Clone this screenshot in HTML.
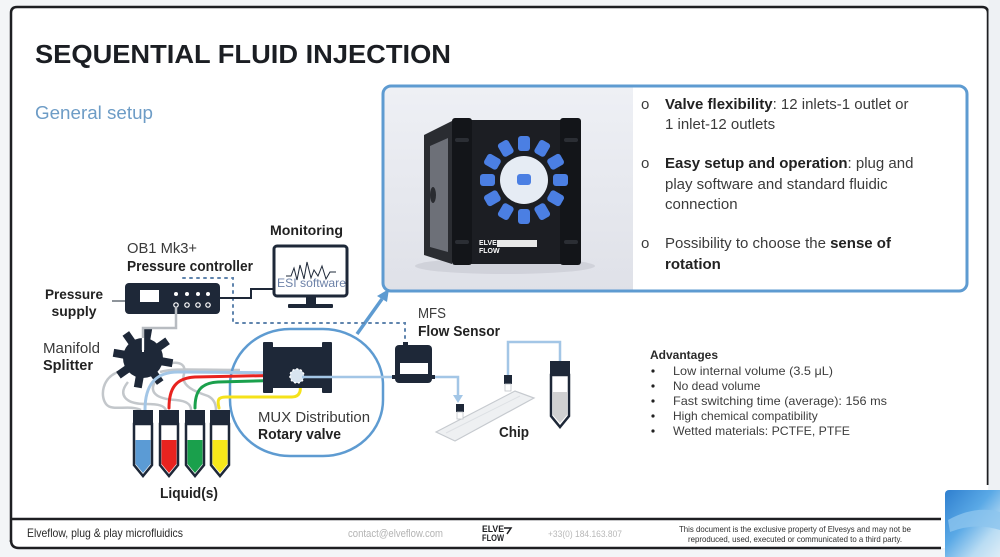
<!DOCTYPE html>
<html><head><meta charset="utf-8">
<style>
html,body{margin:0;padding:0;background:#f3f5f7;}
svg{display:block;font-family:"Liberation Sans",Arial,sans-serif;}
</style></head>
<body>
<svg width="1000" height="557" viewBox="0 0 1000 557" xmlns="http://www.w3.org/2000/svg">
<defs>
  <linearGradient id="photoBg" x1="0" y1="0" x2="0" y2="1">
    <stop offset="0" stop-color="#eef0f5"/>
    <stop offset="1" stop-color="#dfe1e8"/>
  </linearGradient>
  <linearGradient id="blueImg" x1="0" y1="0" x2="1" y2="1">
    <stop offset="0" stop-color="#2f7fcf"/>
    <stop offset="0.4" stop-color="#5aa9e6"/>
    <stop offset="0.7" stop-color="#b9dcf3"/>
    <stop offset="1" stop-color="#e7f1f8"/>
  </linearGradient>
  <clipPath id="boxClip"><rect x="383" y="86" width="584" height="205" rx="8"/></clipPath>
</defs>

<!-- slide frame -->
<rect x="11" y="7" width="977" height="541" rx="6" fill="#ffffff"/>
<path d="M11,542 L11,13 Q11,7 17,7 L982,7 Q988,7 988,13 L988,485" fill="none" stroke="#1e1f22" stroke-width="2.5"/>
<path d="M11,540 Q11,548 19,548 L941,548" fill="none" stroke="#1e1f22" stroke-width="2.5"/>
<line x1="11" y1="519" x2="941" y2="519" stroke="#1e1f22" stroke-width="2.5"/>
<rect x="988.5" y="0" width="12" height="490" fill="#eef1f4"/>
<!-- bottom-right blue photo -->
<rect x="945" y="490" width="60" height="70" rx="4" fill="url(#blueImg)"/>
<path d="M948,520 Q975,505 1000,512 L1000,530 Q975,522 950,532 Z" fill="#8cc4ee" opacity="0.8"/>

<!-- title -->
<text x="35" y="63" font-size="26" font-weight="bold" fill="#1b1e23" textLength="416" lengthAdjust="spacingAndGlyphs">SEQUENTIAL FLUID INJECTION</text>
<text x="35" y="119" font-size="18" fill="#6d9cc6" textLength="118" lengthAdjust="spacingAndGlyphs">General setup</text>

<!-- right info box -->
<rect x="383" y="86" width="584" height="205" rx="8" fill="#ffffff"/>
<g clip-path="url(#boxClip)">
  <rect x="383" y="86" width="250" height="206" fill="url(#photoBg)"/>
  <ellipse cx="505" cy="266" rx="90" ry="8" fill="#c9cbd3" opacity="0.7"/>
  <!-- cube side -->
  <polygon points="424,135 452,121 452,264 424,255" fill="#2a2c31"/>
  <polygon points="430,146 448,138 448,252 430,247" fill="#6d7078"/>
  <ellipse cx="433" cy="195" rx="3" ry="8" fill="#2a2c31"/>
  <!-- cube front -->
  <rect x="452" y="120" width="129" height="144" rx="3" fill="#1c1e23"/>
  <rect x="452" y="118" width="20" height="147" rx="3" fill="#131519"/>
  <rect x="560" y="118" width="21" height="147" rx="3" fill="#131519"/>
  <rect x="455" y="138" width="14" height="4" rx="2" fill="#2b2e34"/>
  <rect x="455" y="240" width="14" height="4" rx="2" fill="#2b2e34"/>
  <rect x="564" y="138" width="14" height="4" rx="2" fill="#2b2e34"/>
  <rect x="564" y="240" width="14" height="4" rx="2" fill="#2b2e34"/>
  <!-- blue connectors -->
  <g fill="#4b7fe3">
    <g transform="translate(524,180)">
      <rect x="-6" y="-44" width="12" height="15" rx="3" transform="rotate(0)"/>
      <rect x="-6" y="-44" width="12" height="15" rx="3" transform="rotate(30)"/>
      <rect x="-6" y="-44" width="12" height="15" rx="3" transform="rotate(60)"/>
      <rect x="-6" y="-44" width="12" height="15" rx="3" transform="rotate(90)"/>
      <rect x="-6" y="-44" width="12" height="15" rx="3" transform="rotate(120)"/>
      <rect x="-6" y="-44" width="12" height="15" rx="3" transform="rotate(150)"/>
      <rect x="-6" y="-44" width="12" height="15" rx="3" transform="rotate(180)"/>
      <rect x="-6" y="-44" width="12" height="15" rx="3" transform="rotate(210)"/>
      <rect x="-6" y="-44" width="12" height="15" rx="3" transform="rotate(240)"/>
      <rect x="-6" y="-44" width="12" height="15" rx="3" transform="rotate(270)"/>
      <rect x="-6" y="-44" width="12" height="15" rx="3" transform="rotate(300)"/>
      <rect x="-6" y="-44" width="12" height="15" rx="3" transform="rotate(330)"/>
    </g>
  </g>
  <circle cx="524" cy="180" r="24" fill="#e6ecf4"/>
  <rect x="517" y="174" width="14" height="11" rx="3" fill="#4b7fe3"/>
  <text x="479" y="245" font-size="7" font-weight="bold" fill="#ffffff">ELVE</text>
  <text x="479" y="253" font-size="7" font-weight="bold" fill="#ffffff">FLOW</text>
  <rect x="497" y="240" width="40" height="7" fill="#e8e8e8"/>
</g>
<rect x="383" y="86" width="584" height="205" rx="8" fill="none" stroke="#5e9bd1" stroke-width="3"/>

<g font-size="15" fill="#3b3b3b">
  <text x="641" y="109">o</text>
  <text x="665" y="109"><tspan font-weight="bold" fill="#222">Valve flexibility</tspan>: 12 inlets-1 outlet or</text>
  <text x="665" y="129">1 inlet-12 outlets</text>
  <text x="641" y="168">o</text>
  <text x="665" y="168"><tspan font-weight="bold" fill="#222">Easy setup and operation</tspan>: plug and</text>
  <text x="665" y="189">play software and standard fluidic</text>
  <text x="665" y="209">connection</text>
  <text x="641" y="248">o</text>
  <text x="665" y="248">Possibility to choose the <tspan font-weight="bold" fill="#222">sense of</tspan></text>
  <text x="665" y="269" font-weight="bold" fill="#222">rotation</text>
</g>

<!-- arrow from MUX to box -->
<line x1="357" y1="334" x2="382" y2="299" stroke="#5e9bd1" stroke-width="3.5"/>
<polygon points="389,289 377,296 387,302" fill="#5e9bd1"/>

<!-- dotted signal lines -->
<path d="M183,278 L233,278 L233,323 L405,323 L405,345" fill="none" stroke="#5f84ad" stroke-width="2" stroke-dasharray="2,5" stroke-linecap="round"/>

<!-- pressure controller -->
<text x="127" y="253" font-size="14.5" fill="#3a3a3a" textLength="70" lengthAdjust="spacingAndGlyphs">OB1 Mk3+</text>
<text x="127" y="271" font-size="14.5" font-weight="bold" fill="#222" textLength="126" lengthAdjust="spacingAndGlyphs">Pressure controller</text>
<line x1="112" y1="301" x2="126" y2="301" stroke="#8e949a" stroke-width="2"/>
<rect x="125" y="283" width="95" height="31" rx="4" fill="#1e2838"/>
<rect x="140" y="290" width="19" height="12" fill="#ffffff"/>
<g fill="#ffffff">
  <circle cx="176" cy="294" r="2"/><circle cx="187" cy="294" r="2"/><circle cx="198" cy="294" r="2"/><circle cx="208" cy="294" r="2"/>
</g>
<g fill="none" stroke="#ffffff" stroke-width="1.2">
  <circle cx="176" cy="305" r="2.2"/><circle cx="187" cy="305" r="2.2"/><circle cx="198" cy="305" r="2.2"/><circle cx="208" cy="305" r="2.2"/>
</g>
<text x="74" y="299" font-size="14" font-weight="bold" fill="#222" text-anchor="middle" textLength="58" lengthAdjust="spacingAndGlyphs">Pressure</text>
<text x="74" y="316" font-size="14" font-weight="bold" fill="#222" text-anchor="middle" textLength="45" lengthAdjust="spacingAndGlyphs">supply</text>

<!-- cable to monitor -->
<path d="M220,298 L251,298 L251,289 L274,289" fill="none" stroke="#1e2838" stroke-width="2"/>

<!-- monitor -->
<text x="270" y="235" font-size="14" font-weight="bold" fill="#222" textLength="73" lengthAdjust="spacingAndGlyphs">Monitoring</text>
<rect x="274" y="246" width="73" height="50" rx="3" fill="#ffffff" stroke="#1e2838" stroke-width="3"/>
<rect x="306" y="297" width="10" height="8" fill="#1e2838"/>
<rect x="288" y="304" width="45" height="4" rx="1" fill="#1e2838"/>
<polyline points="286,276 291,276 294,268 297,280 300,265 304,279 307,262 311,278 314,270 318,276 322,266 326,279 330,272 336,272" fill="none" stroke="#1e2838" stroke-width="1"/>
<text x="277" y="287" font-size="12" fill="#6d82a8" textLength="69" lengthAdjust="spacingAndGlyphs">ESI software</text>

<!-- manifold splitter -->
<text x="43" y="353" font-size="14.5" fill="#3a3a3a" textLength="57" lengthAdjust="spacingAndGlyphs">Manifold</text>
<text x="43" y="370" font-size="14.5" font-weight="bold" fill="#222" textLength="50" lengthAdjust="spacingAndGlyphs">Splitter</text>

<!-- gray pressure tubes -->
<g fill="none" stroke="#c3c7cb" stroke-width="2.5">
  <path d="M118,372 C102,378 100,396 106,404 C112,412 128,404 141,410"/>
  <path d="M128,382 C118,394 124,404 146,404 C160,404 164,406 166,410"/>
  <path d="M156,380 C148,392 156,399 176,400 C188,401 191,405 191,410"/>
  <path d="M166,364 C182,360 186,366 184,374 C180,386 196,392 208,396 C214,399 216,404 216,410"/>
  <path d="M160,372 C175,368 190,370 240,370"/>
</g>
<!-- gear -->
<g transform="translate(143,358)" fill="#1e2838">
  <circle r="20"/>
  <rect x="-4" y="-30" width="8" height="12" transform="rotate(10)"/>
  <rect x="-4" y="-30" width="8" height="12" transform="rotate(55)"/>
  <rect x="-4" y="-30" width="8" height="12" transform="rotate(100)"/>
  <rect x="-4" y="-30" width="8" height="12" transform="rotate(145)"/>
  <rect x="-4" y="-30" width="8" height="12" transform="rotate(190)"/>
  <rect x="-4" y="-30" width="8" height="12" transform="rotate(235)"/>
  <rect x="-4" y="-30" width="8" height="12" transform="rotate(280)"/>
  <rect x="-4" y="-30" width="8" height="12" transform="rotate(325)"/>
</g>
<path d="M176,308 L176,328 L143,328 L143,350" fill="none" stroke="#b8bcc1" stroke-width="2.5"/>
<line x1="143" y1="338" x2="143" y2="352" stroke="#ffffff" stroke-width="2"/>

<!-- MUX circle -->
<rect x="230" y="329" width="153" height="127" rx="60" ry="56" fill="none" stroke="#5e9bd1" stroke-width="2.5"/>

<!-- colored liquid tubes -->
<g fill="none" stroke-width="3" stroke-linecap="round">
  <path d="M145,410 C145,385 155,372 178,372 L296,373" stroke="#a3c6e6"/>
  <path d="M169,408 C169,388 176,378 195,377 L296,375" stroke="#e8231f"/>
  <path d="M195,408 C195,392 200,383 218,382 L294,380" stroke="#1aa04c"/>
  <path d="M219,408 C217,400 218,397 226,397 L292,397 C300,397 302,390 299,382" stroke="#f5e21a"/>
</g>

<!-- MUX valve -->
<rect x="263" y="342" width="10" height="51" rx="1" fill="#1e2838"/>
<rect x="322" y="342" width="10" height="51" rx="1" fill="#1e2838"/>
<rect x="273" y="347" width="49" height="41" fill="#1e2838"/>
<circle cx="297" cy="376" r="7" fill="#d8e4ef" stroke="#ffffff" stroke-width="1.5" stroke-dasharray="2,2"/>
<text x="258" y="422" font-size="15" fill="#3a3a3a" textLength="112" lengthAdjust="spacingAndGlyphs">MUX Distribution</text>
<text x="258" y="439" font-size="15" font-weight="bold" fill="#222" textLength="83" lengthAdjust="spacingAndGlyphs">Rotary valve</text>

<!-- flow line -->
<path d="M302,377 L395,377" stroke="#a3c6e6" stroke-width="2.5" fill="none"/>
<path d="M432,377 L458,377 L458,396" stroke="#a3c6e6" stroke-width="2.5" fill="none"/>
<polygon points="453,395 463,395 458,403" fill="#a3c6e6"/>

<!-- flow sensor -->
<text x="418" y="318" font-size="14.5" fill="#3a3a3a" textLength="28" lengthAdjust="spacingAndGlyphs">MFS</text>
<text x="418" y="336" font-size="14.5" font-weight="bold" fill="#222" textLength="82" lengthAdjust="spacingAndGlyphs">Flow Sensor</text>
<rect x="403" y="342" width="5" height="4" fill="#1e2838"/>
<rect x="395" y="345" width="37" height="38" rx="4" fill="#1e2838"/>
<rect x="400" y="363" width="28" height="11" fill="#ffffff"/>
<rect x="392" y="375" width="4" height="4" fill="#1e2838"/>
<rect x="431" y="375" width="4" height="4" fill="#1e2838"/>

<!-- chip -->
<polygon points="436,432 515,391 534,398 455,441" fill="#eef0f2" stroke="#c6cacf" stroke-width="1.2"/>
<line x1="446" y1="433" x2="520" y2="396" stroke="#dde0e4" stroke-width="1"/>
<rect x="456" y="404" width="8" height="8" fill="#1e2838"/>
<rect x="457" y="412" width="6" height="7" fill="#ffffff" stroke="#bfc3c8" stroke-width="0.8"/>
<rect x="504" y="375" width="8" height="9" fill="#1e2838"/>
<rect x="505" y="384" width="6" height="7" fill="#ffffff" stroke="#bfc3c8" stroke-width="0.8"/>
<path d="M508,375 L508,342 L560,342 L560,361" stroke="#a3c6e6" stroke-width="2.5" fill="none"/>
<text x="499" y="437" font-size="15" font-weight="bold" fill="#222" textLength="30" lengthAdjust="spacingAndGlyphs">Chip</text>

<!-- waste vial -->
<path d="M551,375 L551,416 L560,427 L569,416 L569,375 Z" fill="#ffffff" stroke="#1e2838" stroke-width="2.5"/>
<path d="M553,392 L553,415 L560,423 L567,415 L567,392 Z" fill="#d0d1d2"/>
<rect x="550" y="361" width="20" height="14" fill="#1e2838"/>

<!-- liquid vials -->
<g stroke="#1e2838" stroke-width="2.5">
  <path d="M134,424 L134,465 L143,476 L152,465 L152,424 Z" fill="#ffffff"/>
  <path d="M160,424 L160,465 L169,476 L178,465 L178,424 Z" fill="#ffffff"/>
  <path d="M186,424 L186,465 L195,476 L204,465 L204,424 Z" fill="#ffffff"/>
  <path d="M211,424 L211,465 L220,476 L229,465 L229,424 Z" fill="#ffffff"/>
</g>
<path d="M135.5,440 L135.5,464 L143,473 L150.5,464 L150.5,440 Z" fill="#5b9bd5"/>
<path d="M161.5,440 L161.5,464 L169,473 L176.5,464 L176.5,440 Z" fill="#e8231f"/>
<path d="M187.5,440 L187.5,464 L195,473 L202.5,464 L202.5,440 Z" fill="#1aa04c"/>
<path d="M212.5,440 L212.5,464 L220,473 L227.5,464 L227.5,440 Z" fill="#f7e81a"/>
<g fill="#1e2838">
  <rect x="133" y="410" width="20" height="14"/>
  <rect x="159" y="410" width="20" height="14"/>
  <rect x="185" y="410" width="20" height="14"/>
  <rect x="210" y="410" width="20" height="14"/>
</g>
<text x="160" y="498" font-size="14.5" font-weight="bold" fill="#222" textLength="58" lengthAdjust="spacingAndGlyphs">Liquid(s)</text>

<!-- advantages -->
<text x="650" y="359" font-size="12" font-weight="bold" fill="#2a2a2a" textLength="68" lengthAdjust="spacingAndGlyphs">Advantages</text>
<g font-size="12" fill="#3d3d3d">
  <circle cx="653" cy="371" r="1.6" fill="#222"/>
  <text x="673" y="375" textLength="160" lengthAdjust="spacingAndGlyphs">Low internal volume (3.5 μL)</text>
  <circle cx="653" cy="386" r="1.6" fill="#222"/>
  <text x="673" y="390">No dead volume</text>
  <circle cx="653" cy="401" r="1.6" fill="#222"/>
  <text x="673" y="405" textLength="214" lengthAdjust="spacingAndGlyphs">Fast switching time (average): 156 ms</text>
  <circle cx="653" cy="416" r="1.6" fill="#222"/>
  <text x="673" y="420">High chemical compatibility</text>
  <circle cx="653" cy="431" r="1.6" fill="#222"/>
  <text x="673" y="435" textLength="177" lengthAdjust="spacingAndGlyphs">Wetted materials: PCTFE, PTFE</text>
</g>

<!-- footer -->
<text x="27" y="537" font-size="12" fill="#2a2a2a" textLength="156" lengthAdjust="spacingAndGlyphs">Elveflow, plug &amp; play microfluidics</text>
<text x="348" y="537" font-size="11" fill="#b3b3b3" textLength="95" lengthAdjust="spacingAndGlyphs">contact@elveflow.com</text>
<text x="482" y="532" font-size="9" font-weight="bold" fill="#1e1f22" textLength="22" lengthAdjust="spacingAndGlyphs">ELVE</text>
<text x="482" y="541" font-size="9" font-weight="bold" fill="#1e1f22" textLength="22" lengthAdjust="spacingAndGlyphs">FLOW</text>
<path d="M504,528 L511,528 L507,534" fill="none" stroke="#1e1f22" stroke-width="1.5"/>
<text x="548" y="537" font-size="9" fill="#b8b8b8" textLength="74" lengthAdjust="spacingAndGlyphs">+33(0) 184.163.807</text>
<text x="795" y="532" font-size="8.5" fill="#2e2e2e" text-anchor="middle" textLength="232" lengthAdjust="spacingAndGlyphs">This document is the exclusive property of Elvesys and may not be</text>
<text x="795" y="542" font-size="8.5" fill="#2e2e2e" text-anchor="middle" textLength="214" lengthAdjust="spacingAndGlyphs">reproduced, used, executed or communicated to a third party.</text>
</svg>
</body></html>
